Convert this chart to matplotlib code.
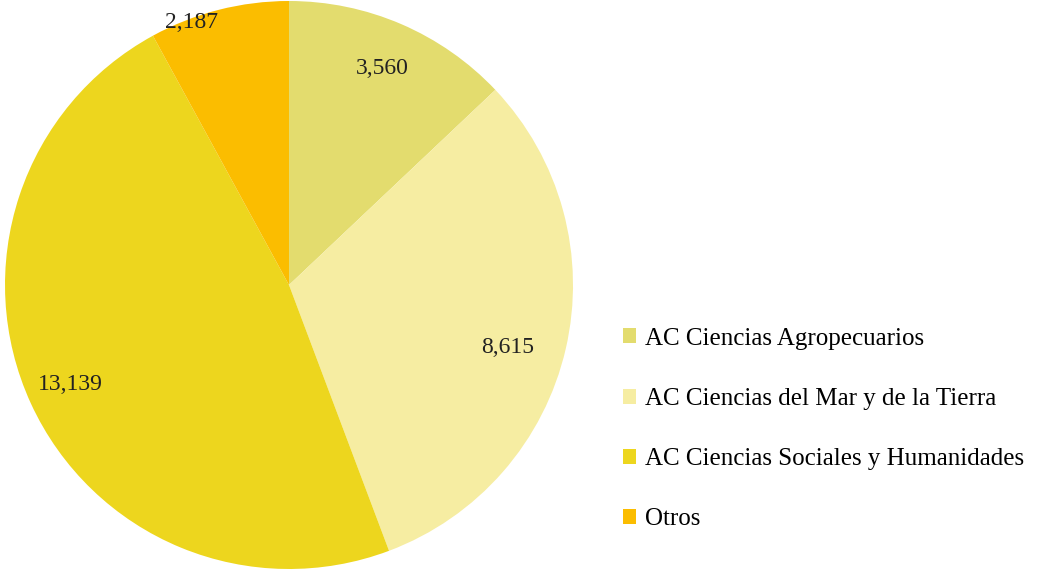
import numpy as np
import matplotlib.pyplot as plt
from matplotlib.patches import Patch

categorias = ['AC Ciencias Agropecuarios', 'AC Ciencias del Mar y de la Tierra',
              'AC Ciencias Sociales y Humanidades', 'Otros']
valores = [3560, 8615, 13139, 2187]
colores = ['#E3DC6E', '#F6EDA2', '#EDD61E', '#FBBD00']
dist_etiqueta = [0.83, 0.80, 0.845, 0.985]
giro_etiqueta = [0, -3, 0, 6]

plt.rcParams['font.family'] = ['Liberation Serif', 'DejaVu Serif']

fig = plt.figure(figsize=(10.48, 5.71), dpi=100)
ax = fig.add_axes([5 / 1048, 2 / 571, 568 / 1048, 568 / 571])

wedges, _ = ax.pie(valores, colors=colores, startangle=90, counterclock=False,
                   radius=1, wedgeprops=dict(linewidth=0))
ax.set_xlim(-1, 1)
ax.set_ylim(-1, 1)
ax.set_aspect('equal')

for w, v, d, g in zip(wedges, valores, dist_etiqueta, giro_etiqueta):
    ang = np.deg2rad((w.theta1 + w.theta2) / 2 + g)
    ax.text(d * np.cos(ang), d * np.sin(ang), f'{v:,}', ha='center', va='center',
            fontsize=17, color='#222222')

handles = [Patch(facecolor=c, edgecolor='none') for c in colores]
fig.legend(handles, categorias, loc='center left', bbox_to_anchor=(600 / 1048, 1 - 429 / 571),
           frameon=False, fontsize=18, handlelength=0.55, handleheight=0.55,
           handletextpad=0.35, labelspacing=1.53)

fig.savefig('out.png', dpi=100)
